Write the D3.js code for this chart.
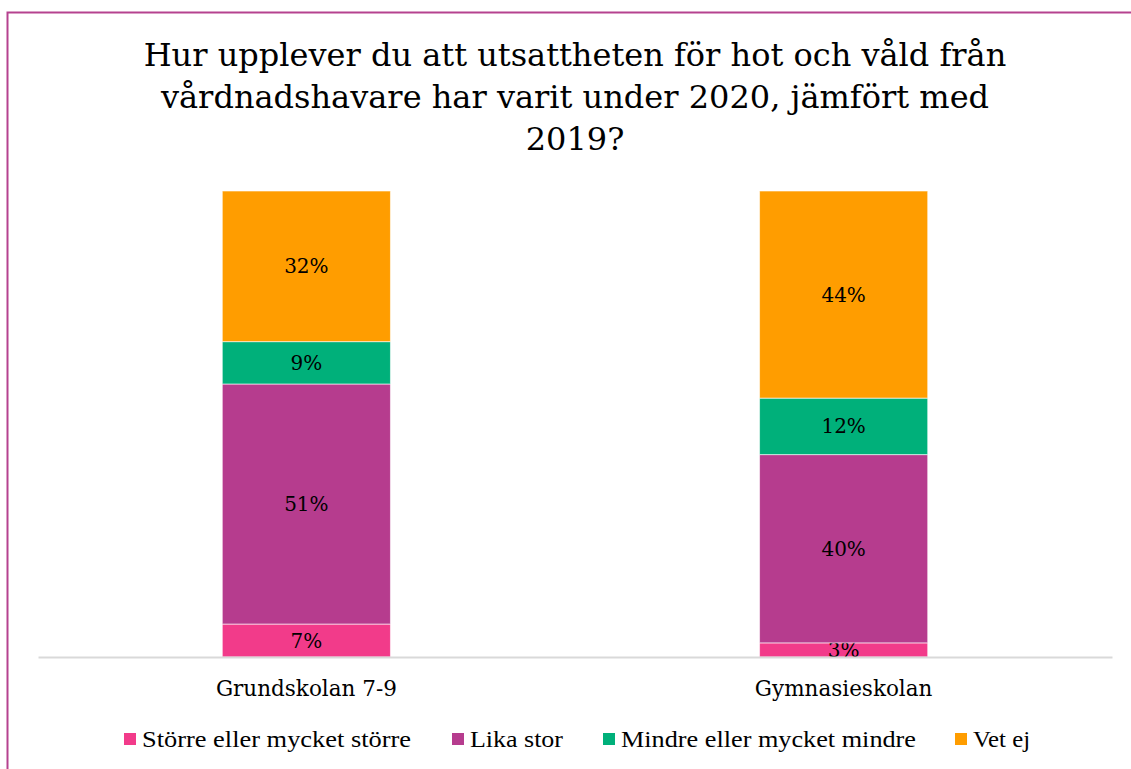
<!DOCTYPE html>
<html>
<head>
<meta charset="utf-8">
<script src="https://cdn.jsdelivr.net/npm/d3@7"></script>
<style>
  body { margin: 0; background: #fff; }
  svg { display: block; }
</style>
</head>
<body>
<div id="chart"></div>
<script>
// Data
const categories = ["Grundskolan 7-9", "Gymnasieskolan"];
const seriesNames = ["Större eller mycket större", "Lika stor", "Mindre eller mycket mindre", "Vet ej"];
const storre = [7, 3];
const likaStor = [51, 40];
const mindre = [9, 12];
const vetEj = [32, 44];
const titleLines = ["Hur upplever du att utsattheten för hot och våld från",
                    "vårdnadshavare har varit under 2020, jämfört med",
                    "2019?"];

const colors = ["#f23b8a", "#b63c8e", "#00b07a", "#ff9d00"];

const width = 1131;
const height = 769;
const serif = "Georgia, 'DejaVu Serif', serif";

const svg = d3.select("#chart")
    .append("svg")
    .attr("width", width)
    .attr("height", height);

// Frame (only top and left visible in the reference)
svg.append("rect")
    .attr("x", 7.5)
    .attr("y", 12.5)
    .attr("width", 1140)
    .attr("height", 800)
    .attr("fill", "none")
    .attr("stroke", "#b5428f")
    .attr("stroke-width", 2);

// Title
svg.append("text")
    .attr("text-anchor", "middle")
    .attr("font-family", serif)
    .attr("font-size", 32)
    .attr("fill", "#000")
    .selectAll("tspan")
    .data(titleLines)
    .enter().append("tspan")
    .attr("x", 575)
    .attr("y", (d, i) => 66 + i * 42)
    .text(d => d);

// Build stacked table
const table = categories.map((c, i) => ({
    category: c,
    s0: storre[i], s1: likaStor[i], s2: mindre[i], s3: vetEj[i]
}));
const stack = d3.stack().keys(["s0", "s1", "s2", "s3"]);
const stacked = stack(table);

const x = d3.scaleBand()
    .domain(categories)
    .range([38, 1112])
    .paddingInner(0.687)
    .paddingOuter(0.343);

const y = d3.scaleLinear()
    .domain([0, 100])
    .range([657, 186.3]);

// Bars
const layer = svg.append("g")
    .selectAll("g")
    .data(stacked)
    .enter().append("g")
    .attr("fill", (d, i) => colors[i]);

layer.selectAll("rect")
    .data(d => d)
    .enter().append("rect")
    .attr("x", d => x(d.data.category))
    .attr("y", d => y(d[1]))
    .attr("width", x.bandwidth())
    .attr("height", d => y(d[0]) - y(d[1]))
    .attr("stroke", "rgba(255,255,255,0.6)")
    .attr("stroke-width", 1);

// Data labels
layer.selectAll("text")
    .data(d => d)
    .enter().append("text")
    .attr("x", d => x(d.data.category) + x.bandwidth() / 2)
    .attr("y", d => (y(d[0]) + y(d[1])) / 2 + 7)
    .attr("text-anchor", "middle")
    .attr("font-family", serif)
    .attr("font-size", 20)
    .attr("fill", "#000")
    .text(d => (d[1] - d[0]) + "%");

// Category axis
const xAxis = svg.append("g")
    .attr("transform", "translate(0,657)")
    .call(d3.axisBottom(x).tickSize(0).tickPadding(24));
xAxis.select(".domain").attr("stroke", "#d9d9d9").attr("stroke-width", 2);
xAxis.selectAll("text")
    .attr("font-family", serif)
    .attr("font-size", 21.5)
    .attr("fill", "#000");

// Legend
const legendX = [124, 452, 603, 955];
const legendW = [269, 93, 295, 57];
const legend = svg.append("g")
    .selectAll("g")
    .data(seriesNames)
    .enter().append("g")
    .attr("transform", (d, i) => `translate(${legendX[i]},733)`);

legend.append("rect")
    .attr("width", 12)
    .attr("height", 12)
    .attr("fill", (d, i) => colors[i]);

legend.append("text")
    .attr("x", 18)
    .attr("y", 14)
    .attr("font-family", "'Liberation Serif', serif")
    .attr("font-size", 24)
    .attr("textLength", (d, i) => legendW[i])
    .attr("lengthAdjust", "spacingAndGlyphs")
    .attr("fill", "#000")
    .text(d => d);
</script>
</body>
</html>
